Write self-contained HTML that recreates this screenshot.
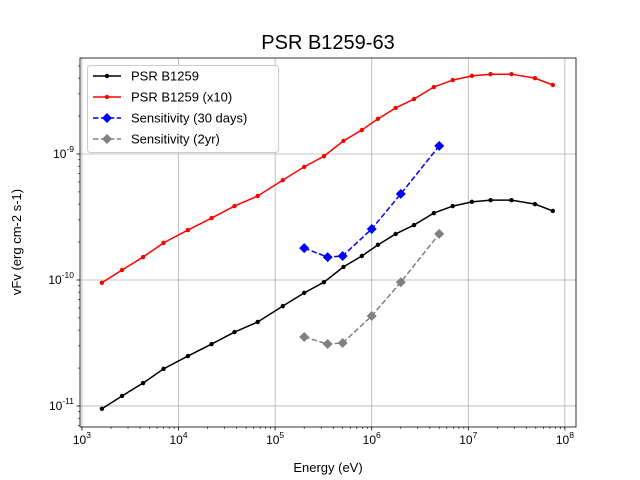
<!DOCTYPE html>
<html><head><meta charset="utf-8"><style>
body{margin:0;background:#fff;}
svg{display:block;font-family:"Liberation Sans","DejaVu Sans",sans-serif;}
</style></head><body>
<svg id="chart" width="640" height="480" viewBox="0 0 640 480"></svg>
<script>
const energies = [1.61e3,2.6e3,4.3e3,7.0e3,1.25e4,2.2e4,3.8e4,6.6e4,1.2e5,2.0e5,3.2e5,5.1e5,7.9e5,1.16e6,1.77e6,2.74e6,4.4e6,6.9e6,1.09e7,1.7e7,2.8e7,4.9e7,7.5e7];
const fluxB1259 = [9.5e-12,1.2e-11,1.52e-11,1.97e-11,2.49e-11,3.1e-11,3.86e-11,4.64e-11,6.2e-11,7.9e-11,9.6e-11,1.27e-10,1.55e-10,1.9e-10,2.32e-10,2.73e-10,3.4e-10,3.86e-10,4.17e-10,4.3e-10,4.3e-10,4.0e-10,3.53e-10];
const scaleFactor = 10;
const sensEnergies = [2e5,3.5e5,5e5,1e6,2e6,5e6];
const sens30 = [1.79e-10,1.52e-10,1.55e-10,2.54e-10,4.82e-10,1.16e-9];
const sens2yr = [3.53e-11,3.1e-11,3.16e-11,5.18e-11,9.6e-11,2.32e-10];
const xTickExps = [3,4,5,6,7,8];
const yTickExps = [-11,-10,-9];

const NS="http://www.w3.org/2000/svg";
const svg=document.getElementById('chart');
const L=80,R=576,T=58,B=427;
const xmin=2.98,xmax=8.115,ymin=-11.167,ymax=-8.238;
const X=v=>L+(Math.log10(v)-xmin)/(xmax-xmin)*(R-L);
const Y=v=>B-(Math.log10(v)-ymin)/(ymax-ymin)*(B-T);
function el(tag,attrs,parent){const e=document.createElementNS(NS,tag);for(const k in attrs)e.setAttribute(k,attrs[k]);(parent||svg).appendChild(e);return e;}

// grid
xTickExps.forEach(e=>{const x=X(Math.pow(10,e));
 const g=el('line',{x1:x,x2:x,y1:T,y2:B,stroke:'#b0b0b0','stroke-width':0.8});
 
 });
yTickExps.forEach(e=>{const y=Y(Math.pow(10,e));
 const g=el('line',{x1:L,x2:R,y1:y,y2:y,stroke:'#b0b0b0','stroke-width':0.8});
 
 });

// ticks
xTickExps.forEach(e=>{const x=X(Math.pow(10,e));
 el('line',{x1:x,x2:x,y1:B,y2:B+3.5,stroke:'#000','stroke-width':0.8});
 const t=el('text',{x:x,y:B+17,'font-size':12,'text-anchor':'middle'});
 
 
 t.innerHTML='10<tspan dy="-6" font-size="8.5">'+e+'</tspan>';
 for(let m=2;m<10;m++){const xv=X(m*Math.pow(10,e));if(xv>L&&xv<R)el('line',{x1:xv,x2:xv,y1:B,y2:B+2,stroke:'#000','stroke-width':0.6});}
});
for(let m=2;m<10;m++){const xv=X(m*100);if(xv>L&&xv<R)el('line',{x1:xv,x2:xv,y1:B,y2:B+2,stroke:'#000','stroke-width':0.6});}
[-12,-11,-10,-9].forEach(e=>{for(let m=2;m<10;m++){const yv=Y(m*Math.pow(10,e));if(yv>T&&yv<B)el('line',{x1:L,x2:L-2,y1:yv,y2:yv,stroke:'#000','stroke-width':0.6});}});
yTickExps.forEach(e=>{const y=Y(Math.pow(10,e));
 el('line',{x1:L,x2:L-3.5,y1:y,y2:y,stroke:'#000','stroke-width':0.8});
 const t=el('text',{x:L-6,y:y+4,'font-size':12,'text-anchor':'end'});
 
 
 t.innerHTML='10<tspan dy="-6" font-size="8.5">'+e+'</tspan>';
});

// series
function series(xs,ys,color,dash,marker,name){
 const g=el('g',{});
 
 
 const pts=xs.map((x,i)=>X(x)+','+Y(ys[i])).join(' ');
 const a={points:pts,fill:'none',stroke:color,'stroke-width':1.5};
 if(dash)a['stroke-dasharray']='5.5,2.4';
 el('polyline',a,g);
 xs.forEach((x,i)=>{const cx=X(x),cy=Y(ys[i]);
  if(marker==='dot'){el('circle',{cx:cx,cy:cy,r:2.2,fill:color},g);}
  else{el('polygon',{points:`${cx},${cy-5} ${cx+5},${cy} ${cx},${cy+5} ${cx-5},${cy}`,fill:color},g);}
 });
}
series(energies,fluxB1259,'#000',false,'dot','series-psr-b1259');
series(energies,fluxB1259.map(v=>v*scaleFactor),'#ff0000',false,'dot','series-psr-b1259-x10');
series(sensEnergies,sens30,'#0000ff',true,'dia','series-sensitivity-30-days');
series(sensEnergies,sens2yr,'#808080',true,'dia','series-sensitivity-2yr');

// frame
el('rect',{x:L,y:T,width:R-L,height:B-T,fill:'none',stroke:'#000','stroke-width':0.8});

// legend
const lg=el('g',{});


el('rect',{x:87.5,y:65.5,width:191,height:87,rx:3,fill:'#fff','fill-opacity':0.8,stroke:'#ccc','stroke-width':1},lg);
const items=[['PSR B1259','#000',false,'dot'],['PSR B1259 (x10)','#ff0000',false,'dot'],['Sensitivity (30 days)','#0000ff',true,'dia'],['Sensitivity (2yr)','#808080',true,'dia']];
items.forEach((it,i)=>{const y=76+i*21;
 const e=el('g',{},lg);
 
 
 const a={x1:93,x2:121,y1:y,y2:y,stroke:it[1],'stroke-width':1.5};if(it[2])a['stroke-dasharray']='5.5,2.4';
 el('line',a,e);
 if(it[3]==='dot')el('circle',{cx:107,cy:y,r:2.2,fill:it[1]},e);
 else el('polygon',{points:`107,${y-5} 112,${y} 107,${y+5} 102,${y}`,fill:it[1]},e);
 const t=el('text',{x:131,y:y+4.5,'font-size':13},e);t.textContent=it[0];
});

// titles
const tt=el('text',{x:328,y:49,'font-size':20,'text-anchor':'middle'});tt.textContent='PSR B1259-63';


const xt=el('text',{x:328,y:472,'font-size':13,'text-anchor':'middle'});xt.textContent='Energy (eV)';


const yt=el('text',{x:0,y:0,'font-size':13,'text-anchor':'middle',transform:'translate(21,242) rotate(-90)'});yt.textContent='vFv (erg cm-2 s-1)';


</script>
</body></html>
